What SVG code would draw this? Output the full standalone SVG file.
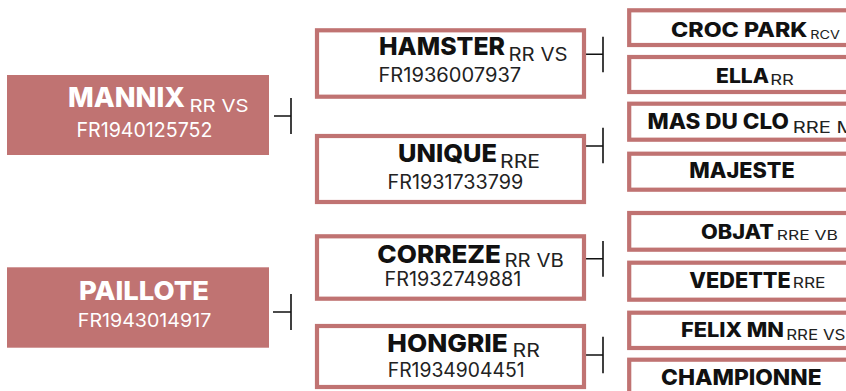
<svg xmlns="http://www.w3.org/2000/svg" width="846" height="391" viewBox="0 0 846 391">
<style>
.fill{fill:#C07372}
.box{fill:#fff;stroke:#C07372;stroke-width:4.2}
.n{font-family:Inter,"Liberation Sans",sans-serif;font-weight:800;fill:#111}
.s{font-family:Inter,"Liberation Sans",sans-serif;font-weight:400;fill:#222}
.w{fill:#fff}
.c{fill:none;stroke:#111;stroke-width:1.6}
</style>
<rect width="846" height="391" fill="#fff"/>
<g id="connectors">
<path class="c" d="M274 116H291M291 98V134"/>
<path class="c" d="M273 312H291M291 294V330"/>
<path class="c" d="M586 54.3H603M603 36.7V72.3"/>
<path class="c" d="M586 146H603M603 127.7V163.3"/>
<path class="c" d="M586 258.7H603M603 241V276.7"/>
<path class="c" d="M586 355H603M603 336.7V373.3"/>
</g>
<g id="mannix">
<rect class="fill" x="7" y="75" width="262" height="80"/>
<text class="n w" x="68" y="106.7" font-size="27.5" textLength="117" lengthAdjust="spacingAndGlyphs">MANNIX</text>
<text class="s w" x="189.5" y="111.7" font-size="17.5" textLength="59" lengthAdjust="spacingAndGlyphs">RR VS</text>
<text class="s w" x="76.5" y="136.7" font-size="20" textLength="136" lengthAdjust="spacingAndGlyphs">FR1940125752</text>
</g>
<g id="paillote">
<rect class="fill" x="7" y="267.3" width="262" height="80.4"/>
<text class="n w" x="79" y="300" font-size="26" textLength="130" lengthAdjust="spacingAndGlyphs">PAILLOTE</text>
<text class="s w" x="77.8" y="326.7" font-size="19" textLength="133.5" lengthAdjust="spacingAndGlyphs">FR1943014917</text>
</g>
<g id="hamster">
<rect class="box" x="317" y="30.3" width="267" height="66.4"/>
<text class="n" x="379" y="55" font-size="25" textLength="126" lengthAdjust="spacingAndGlyphs">HAMSTER</text>
<text class="s" x="508.5" y="61" font-size="18" textLength="59" lengthAdjust="spacingAndGlyphs">RR VS</text>
<text class="s" x="378.5" y="81.7" font-size="19.5" textLength="142.7" lengthAdjust="spacingAndGlyphs">FR1936007937</text>
</g>
<g id="unique">
<rect class="box" x="317" y="136" width="267" height="66"/>
<text class="n" x="398" y="161.7" font-size="25" textLength="99" lengthAdjust="spacingAndGlyphs">UNIQUE</text>
<text class="s" x="500" y="168.3" font-size="18" textLength="40" lengthAdjust="spacingAndGlyphs">RRE</text>
<text class="s" x="387.5" y="189" font-size="19.5" textLength="135.7" lengthAdjust="spacingAndGlyphs">FR1931733799</text>
</g>
<g id="correze">
<rect class="box" x="317" y="236.3" width="267" height="62.4"/>
<text class="n" x="377.3" y="262.7" font-size="25" textLength="123.7" lengthAdjust="spacingAndGlyphs">CORREZE</text>
<text class="s" x="504.5" y="267.3" font-size="18" textLength="59.3" lengthAdjust="spacingAndGlyphs">RR VB</text>
<text class="s" x="384.5" y="286" font-size="19.5" textLength="136.7" lengthAdjust="spacingAndGlyphs">FR1932749881</text>
</g>
<g id="hongrie">
<rect class="box" x="317" y="326" width="267" height="61"/>
<text class="n" x="387.3" y="351.7" font-size="25" textLength="120.4" lengthAdjust="spacingAndGlyphs">HONGRIE</text>
<text class="s" x="512.5" y="356.7" font-size="18" textLength="27.3" lengthAdjust="spacingAndGlyphs">RR</text>
<text class="s" x="387.8" y="376.7" font-size="19.5" textLength="136.7" lengthAdjust="spacingAndGlyphs">FR1934904451</text>
</g>
<g id="crocpark">
<rect class="box" x="629.2" y="10.3" width="240" height="34.7"/>
<text class="n" x="671" y="37.3" font-size="19.5" textLength="136.5" lengthAdjust="spacingAndGlyphs">CROC PARK</text>
<text class="s" x="810.2" y="39.3" font-size="12" textLength="29.6" lengthAdjust="spacingAndGlyphs">RCV</text>
</g>
<g id="ella">
<rect class="box" x="629.2" y="57" width="240" height="35"/>
<text class="n" x="716" y="82.7" font-size="19.5" textLength="53" lengthAdjust="spacingAndGlyphs">ELLA</text>
<text class="s" x="770.2" y="85" font-size="14" textLength="23.6" lengthAdjust="spacingAndGlyphs">RR</text>
</g>
<g id="masduclo">
<rect class="box" x="629.2" y="103.7" width="240" height="36"/>
<text class="n" x="647.5" y="129.3" font-size="21" textLength="141.5" lengthAdjust="spacingAndGlyphs">MAS DU CLO</text>
<text class="s" x="792.8" y="132.7" font-size="16.5" textLength="62" lengthAdjust="spacingAndGlyphs">RRE M</text>
</g>
<g id="majeste">
<rect class="box" x="629.2" y="153.7" width="240" height="36"/>
<text class="n" x="689.3" y="178.3" font-size="21" textLength="105.5" lengthAdjust="spacingAndGlyphs">MAJESTE</text>
</g>
<g id="objat">
<rect class="box" x="629.2" y="213" width="240" height="36.7"/>
<text class="n" x="701" y="239.3" font-size="19.5" textLength="73" lengthAdjust="spacingAndGlyphs">OBJAT</text>
<text class="s" x="776.8" y="240" font-size="13.5" textLength="61" lengthAdjust="spacingAndGlyphs">RRE VB</text>
</g>
<g id="vedette">
<rect class="box" x="629.2" y="262.7" width="240" height="37"/>
<text class="n" x="689.3" y="288.3" font-size="21" textLength="101.5" lengthAdjust="spacingAndGlyphs">VEDETTE</text>
<text class="s" x="792.8" y="288.3" font-size="14" textLength="32.7" lengthAdjust="spacingAndGlyphs">RRE</text>
</g>
<g id="felixmn">
<rect class="box" x="629.2" y="312.7" width="240" height="35.3"/>
<text class="n" x="681" y="336.7" font-size="20" textLength="103" lengthAdjust="spacingAndGlyphs">FELIX MN</text>
<text class="s" x="786.2" y="340" font-size="14" textLength="59.3" lengthAdjust="spacingAndGlyphs">RRE VS</text>
</g>
<g id="championne">
<rect class="box" x="629.2" y="359.7" width="240" height="40"/>
<text class="n" x="661" y="385" font-size="22" textLength="160.5" lengthAdjust="spacingAndGlyphs">CHAMPIONNE</text>
</g>
</svg>
